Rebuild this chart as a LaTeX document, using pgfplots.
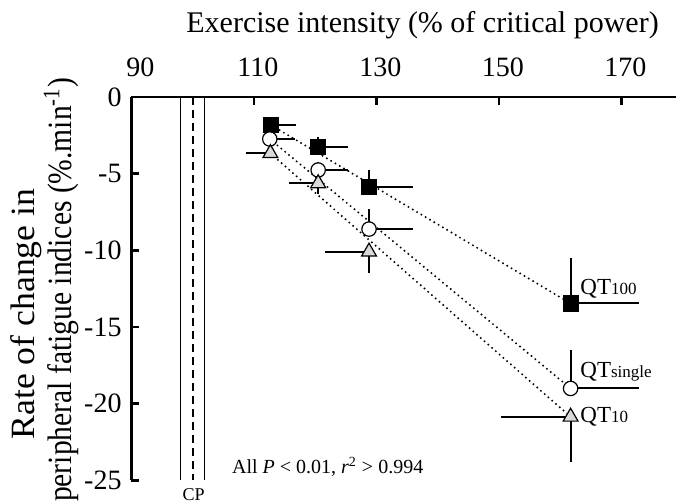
\documentclass[border=0pt]{standalone}
\usepackage{fontspec}
\setmainfont{Liberation Serif}
\usepackage{graphicx}
\usepackage{pgfplots}
\pgfplotsset{compat=1.18}
\begin{document}
\fontsize{14}{16.8}\selectfont
\begin{tikzpicture}
\useasboundingbox (-65.65pt,-11.75pt) rectangle (272.35pt,240.25pt);
\begin{axis}[at={(0pt,0pt)}, anchor=south west, scale only axis,
  width=272.35pt, height=191.75pt,
  xmin=90, xmax=178.9, ymin=-25, ymax=0,
  axis x line*=top, axis y line*=left,
  axis line style={line width=1.4pt},
  tick style={line width=1.3pt, black},
  major tick length=4pt, tick align=inside,
  xtick={90,110,130,150,170},
  xticklabels={\hspace{5pt}90,110,130,150,170},
  ytick={-25,-20,-15,-10,-5,0},
  /pgf/number format/assume math mode=true,
  tick label style={font=\fontsize{14}{16.8}\selectfont},
  xticklabel style={anchor=base, yshift=10pt, xshift=2pt, inner sep=0pt},
  clip=false,
  error bars/error bar style={line width=1pt, black},
  error bars/error mark=none]
% CP lines
\addplot[black, line width=0.5pt] coordinates {(98,0) (98,-25)};
\addplot[black, line width=0.5pt] coordinates {(102,0) (102,-25)};
\addplot[black, line width=1pt, dash pattern=on 4pt off 2.5pt] coordinates {(100,0) (100,-25)};
% regression lines
\addplot[black, line width=1.1pt, dash pattern=on 0pt off 2.5pt, line cap=round] coordinates {(112.8,-1.83) (161.7,-13.46)};
\addplot[black, line width=1.1pt, dash pattern=on 0pt off 2.5pt, line cap=round] coordinates {(112.6,-2.74) (161.7,-19.0)};
\addplot[black, line width=1.1pt, dash pattern=on 0pt off 2.5pt, line cap=round] coordinates {(112.7,-3.67) (161.7,-20.85)};
% QT100
\addplot[only marks, mark=square*, mark size=3.75pt, mark options={fill=black, draw=black, line width=0.6pt},
  error bars/.cd, x dir=plus, y dir=plus, x explicit, y explicit]
  coordinates {
  (112.8,-1.83) +- (4.1,0.2)
  (120.5,-3.24) +- (4.8,0.6)
  (128.8,-5.89) +- (7.1,1.13)
  (161.7,-13.46) +- (11.2,2.94)
  };
% QTsingle
\addplot[only marks, mark=*, mark size=3.6pt, mark options={fill=white, draw=black, line width=0.6pt},
  error bars/.cd, x dir=plus, y dir=plus, x explicit, y explicit]
  coordinates {
  (112.6,-2.74) +- (4.1,0.2)
  (120.5,-4.76) +- (4.8,0.55)
  (128.8,-8.61) +- (7.1,1.28)
  (161.7,-19.0) +- (11.2,2.5)
  };
% QT10
\addplot[only marks, mark=triangle*, mark size=4.3pt, mark options={fill=black!15, draw=black, line width=0.6pt},
  error bars/.cd, x dir=minus, y dir=minus, x explicit, y explicit]
  coordinates {
  (112.7,-3.67) +- (4.0,0.2)
  (120.5,-5.63) +- (4.7,0.7)
  (128.8,-10.09) +- (7.2,1.41)
  (161.7,-20.85) +- (11.4,2.94)
  };
\end{axis}
\node[anchor=base west, inner sep=0pt, font=\fontsize{15}{18}\selectfont] at (27.35pt,223.75pt) {Exercise intensity (\% of critical power)};
\node[rotate=90, anchor=base, inner sep=0pt, font=\fontsize{17}{20}\selectfont] at (-48.15pt,83.25pt) {\scalebox{1.05}[1]{Rate of change in}};
\node[rotate=90, anchor=base, inner sep=0pt, font=\fontsize{17}{20}\selectfont] at (-29.65pt,95.25pt) {\scalebox{0.87}[1]{peripheral fatigue indices (\%.min\textsuperscript{-1})}};
\node[anchor=base west, inner sep=0pt, font=\fontsize{11.5}{13}\selectfont] at (224.35pt,92.75pt) {QT{\fontsize{8.5}{9}\selectfont 100}};
\node[anchor=base west, inner sep=0pt, font=\fontsize{11.5}{13}\selectfont] at (224.35pt,51.25pt) {QT{\fontsize{8.5}{9}\selectfont single}};
\node[anchor=base west, inner sep=0pt, font=\fontsize{11.5}{13}\selectfont] at (224.35pt,28.75pt) {QT{\fontsize{8.5}{9}\selectfont 10}};
\node[anchor=base west, inner sep=0pt, font=\fontsize{10}{12}\selectfont] at (50.2pt,3.25pt) {All \textit{P} < 0.01, \textit{r}\textsuperscript{2} > 0.994};
\node[anchor=base, inner sep=0pt, font=\fontsize{9}{11}\selectfont] at (31.2pt,-10.25pt) {CP};
\end{tikzpicture}
\end{document}
